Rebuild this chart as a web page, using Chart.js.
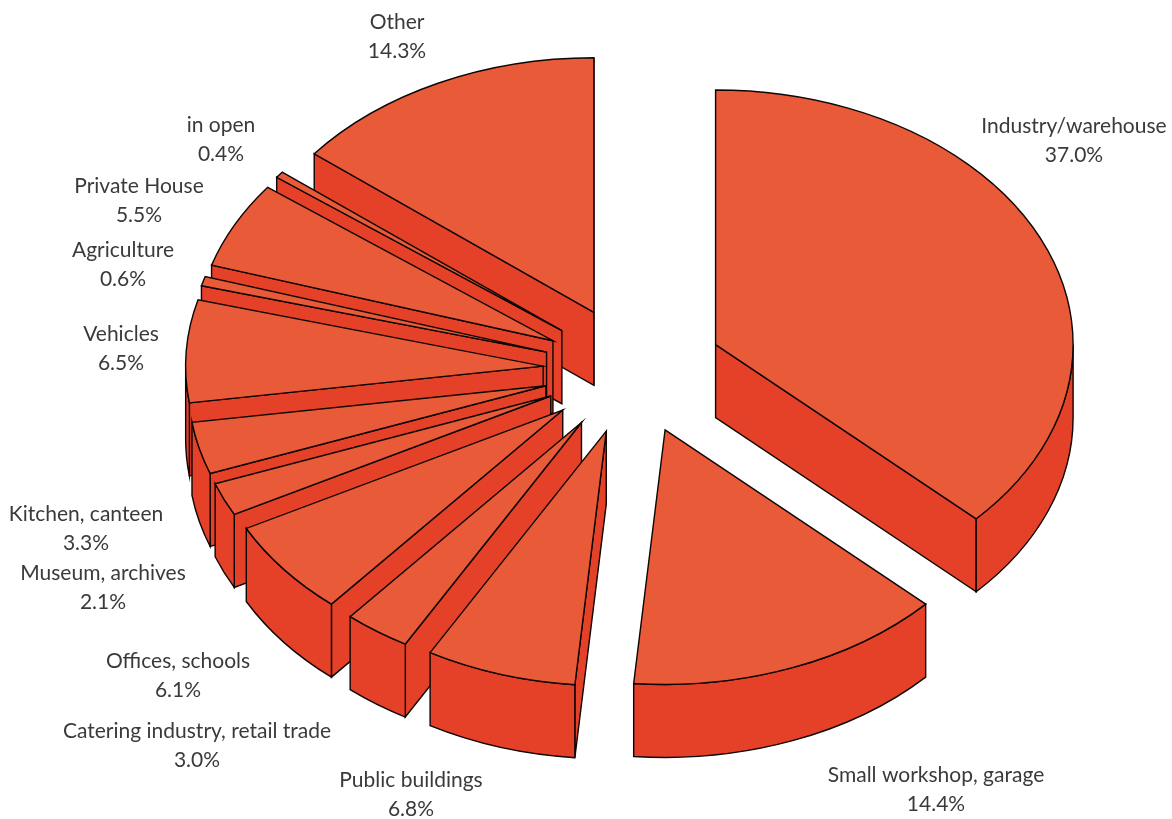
<!DOCTYPE html>
<html>
<head>
<meta charset="utf-8">
<title>Fire locations</title>
<style>
  html, body { margin: 0; padding: 0; background: #fff; }
  canvas { display: block; }
</style>
<script src="https://cdn.jsdelivr.net/npm/chart.js@4/dist/chart.umd.min.js"></script>
</head>
<body>
<canvas id="pie" width="1172" height="819"></canvas>
<script>
const categories = [
  'Industry/warehouse', 'Small workshop, garage', 'Public buildings',
  'Catering industry, retail trade', 'Offices, schools', 'Museum, archives',
  'Kitchen, canteen', 'Vehicles', 'Agriculture', 'Private House', 'in open', 'Other'
];
const shares = [37.0, 14.4, 6.8, 3.0, 6.1, 2.1, 3.3, 6.5, 0.6, 5.5, 0.4, 14.3];

// Horizontal centre of each two-line caption and the vertical centre of its first line.
const captionX = [1074, 936, 411, 197, 178, 103, 86, 121, 123, 139, 221, 397];
const captionY = [126, 775, 780, 731, 661, 573, 514, 334, 250, 186, 125, 22];

const TOP_COLOR = '#E95A38';
const WALL_COLOR = '#E54028';
const LINE_COLOR = '#0d0504';
const TEXT_COLOR = '#3a3a3a';
const TILT = 0.712;       // vertical squash of the disc
const DEPTH = 73;         // extrusion height
const EXPLODE = 90;       // radial distance each slice is pulled out
const FONT = '21px Lato';
const LINE_GAP = 29.5;

// Paints the slices as an exploded, extruded disc using the arc elements' geometry.
const extrudedPie = {
  id: 'extrudedPie',
  beforeDatasetDraw(chart, args) {
    const ctx = chart.ctx;
    const arcs = chart.getDatasetMeta(args.index).data;
    // Back to front: the slices just left of twelve o'clock go first, walking
    // anticlockwise round the left side, with the two right-hand slices last.
    const order = arcs.map((_, i) => i).slice(2).reverse().concat([1, 0]);
    ctx.save();
    ctx.lineWidth = 1.4;
    ctx.lineJoin = 'miter';
    ctx.strokeStyle = LINE_COLOR;
    order.forEach(i => drawSlice(ctx, arcs[i]));
    ctx.restore();
    return false;
  },
  afterDraw(chart) {
    const ctx = chart.ctx;
    ctx.save();
    ctx.font = FONT;
    ctx.fillStyle = TEXT_COLOR;
    ctx.textAlign = 'center';
    ctx.textBaseline = 'middle';
    categories.forEach((name, i) => {
      ctx.fillText(name, captionX[i], captionY[i]);
      ctx.fillText(shares[i].toFixed(1) + '%', captionX[i], captionY[i] + LINE_GAP);
    });
    ctx.restore();
  }
};

function drawSlice(ctx, arc) {
  const { x, y, startAngle: a0, endAngle: a1, outerRadius: r } = arc;
  const mid = (a0 + a1) / 2;
  const cx = x + Math.cos(mid) * EXPLODE;
  const cy = y + Math.sin(mid) * EXPLODE * TILT;
  const rimX = a => cx + Math.cos(a) * r;
  const rimY = a => cy + Math.sin(a) * r * TILT;

  const radialWall = a => {
    ctx.beginPath();
    ctx.moveTo(cx, cy);
    ctx.lineTo(rimX(a), rimY(a));
    ctx.lineTo(rimX(a), rimY(a) + DEPTH);
    ctx.lineTo(cx, cy + DEPTH);
    ctx.closePath();
    ctx.fillStyle = WALL_COLOR;
    ctx.fill();
    ctx.stroke();
  };

  // Only walls facing the viewer are painted.
  if (Math.cos(a0) < 0) radialWall(a0);
  if (Math.cos(a1) > 0) radialWall(a1);

  const from = Math.max(a0, 0);
  const to = Math.min(a1, Math.PI);
  if (to > from) {
    ctx.beginPath();
    ctx.ellipse(cx, cy, r, r * TILT, 0, from, to);
    ctx.ellipse(cx, cy + DEPTH, r, r * TILT, 0, to, from, true);
    ctx.closePath();
    ctx.fillStyle = WALL_COLOR;
    ctx.fill();
    ctx.stroke();
  }

  // Top face: the element fills itself under the tilted transform.
  ctx.save();
  ctx.translate(cx, cy);
  ctx.scale(1, TILT);
  ctx.translate(-x, -y);
  arc.draw(ctx);
  ctx.restore();

  // Outline at a constant width, so the tilt does not thin it.
  ctx.beginPath();
  ctx.moveTo(cx, cy);
  ctx.ellipse(cx, cy, r, r * TILT, 0, a0, a1);
  ctx.closePath();
  ctx.stroke();
}

new Chart(document.getElementById('pie'), {
  type: 'pie',
  data: {
    labels: categories,
    datasets: [{
      data: shares,
      backgroundColor: TOP_COLOR,
      borderWidth: 0
    }]
  },
  options: {
    responsive: false,
    animation: false,
    radius: 357.5,
    layout: { padding: { left: 94, bottom: 79 } },
    events: [],
    plugins: {
      legend: { display: false },
      tooltip: { enabled: false }
    }
  },
  plugins: [extrudedPie]
});
</script>
</body>
</html>
